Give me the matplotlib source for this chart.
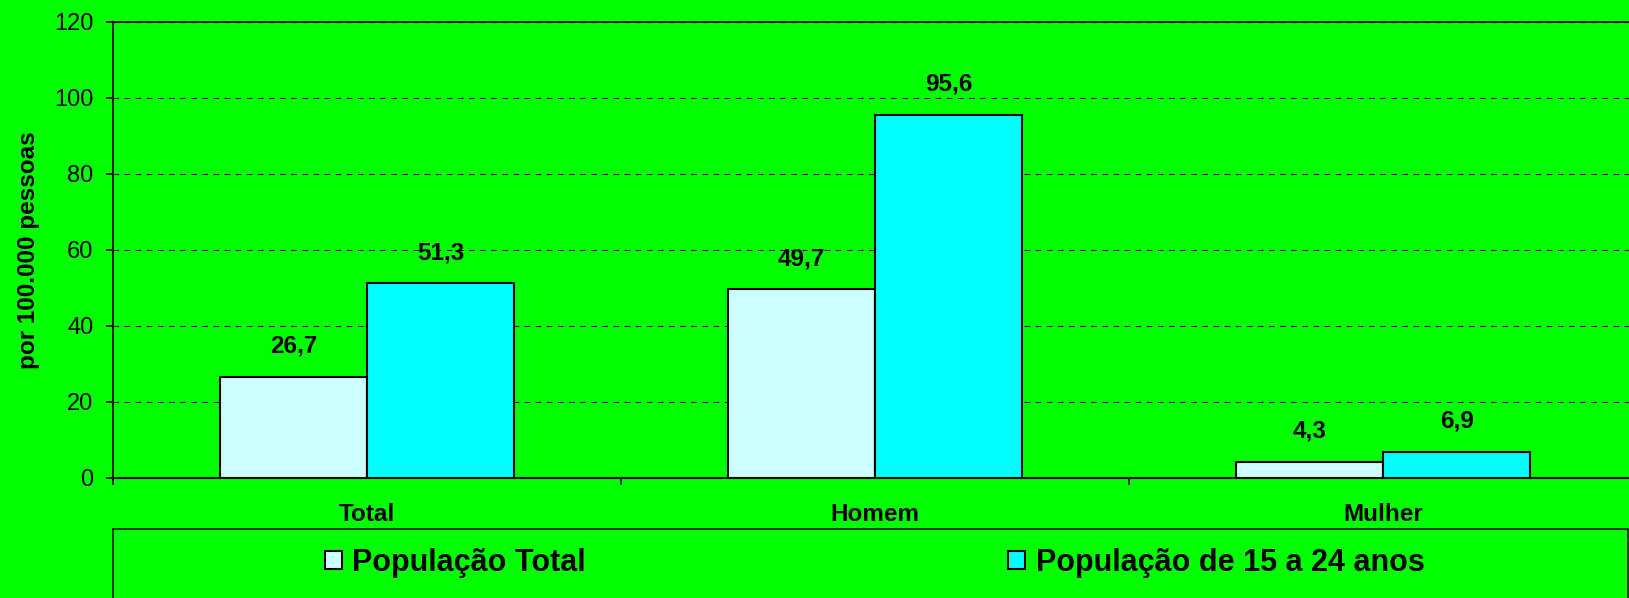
import numpy as np
import matplotlib
matplotlib.use("Agg")
import matplotlib.pyplot as plt
from matplotlib.patches import Rectangle

plt.rcParams['font.family'] = ['Liberation Sans', 'DejaVu Sans']

categories = ["Total", "Homem", "Mulher"]
series_names = ["População Total", "População de 15 a 24 anos"]
pop_total = [26.7, 49.7, 4.3]
pop_15_24 = [51.3, 95.6, 6.9]
yticks = [0, 20, 40, 60, 80, 100, 120]

green = "#00FF00"
fig = plt.figure(figsize=(16.29, 5.98), dpi=100, facecolor=green)
ax = fig.add_axes([113/1629, 120/598, 1524/1629, 456/598])
ax.set_facecolor(green)

x = np.arange(len(categories))
w = 0.29
b1 = ax.bar(x - w/2, pop_total, w, color="#CCFFFF", edgecolor="black", linewidth=1.5,
            label=series_names[0], zorder=3)
b2 = ax.bar(x + w/2, pop_15_24, w, color="#00FFFF", edgecolor="black", linewidth=1.5,
            label=series_names[1], zorder=3)

for bars in (b1, b2):
    for r in bars:
        v = r.get_height()
        ax.annotate(f"{v:.1f}".replace(".", ","), (r.get_x() + r.get_width()/2, v),
                    xytext=(0, 22), textcoords="offset points", ha="center", va="center",
                    fontsize=17.5, fontweight="bold")

ax.set_xlim(-0.5, 2.5)
ax.set_ylim(0, 120)
ax.set_yticks(yticks)
ax.set_yticklabels([str(t) for t in yticks], fontsize=17)
ax.yaxis.grid(True, linestyle=(0, (5, 5)), color="black", linewidth=0.8)
ax.set_axisbelow(True)

# category ticks sit between groups, labels at centers
ax.set_xticks([-0.5, 0.5, 1.5])
ax.set_xticklabels([])
ax.set_xticks(x, minor=True)
ax.set_xticklabels(categories, minor=True, fontsize=17.5, fontweight="bold")
ax.tick_params(axis="x", which="minor", length=0, pad=18)
ax.tick_params(axis="x", which="major", length=5, width=1.2, direction="out")
ax.tick_params(axis="y", length=5, width=1.2, pad=9)

for s in ax.spines.values():
    s.set_linewidth(1.2)
    s.set_color("black")
ax.spines["bottom"].set_linewidth(1.5)

ax.set_ylabel("por 100.000 pessoas", fontsize=17.5, fontweight="bold")
ax.yaxis.set_label_coords(-0.048, 0.5)

# legend box
fig.patches.append(Rectangle((113/1629, -0.02), 1515/1629, (598-529)/598 + 0.02,
                             transform=fig.transFigure, facecolor=green,
                             edgecolor="#1a1a1a", linewidth=1.2, zorder=-1))
ly = 1 - 563/598
for handle, xpos in ((b1, 325), (b2, 1008)):
    fig.legend([handle], [handle.get_label()], loc="center left",
               bbox_to_anchor=(xpos/1629, ly), frameon=False, borderpad=0,
               borderaxespad=0, handlelength=0.55, handleheight=0.55,
               handletextpad=0.35, prop={"size": 22, "weight": "bold"})

fig.savefig("out.png", dpi=100, facecolor=green)
